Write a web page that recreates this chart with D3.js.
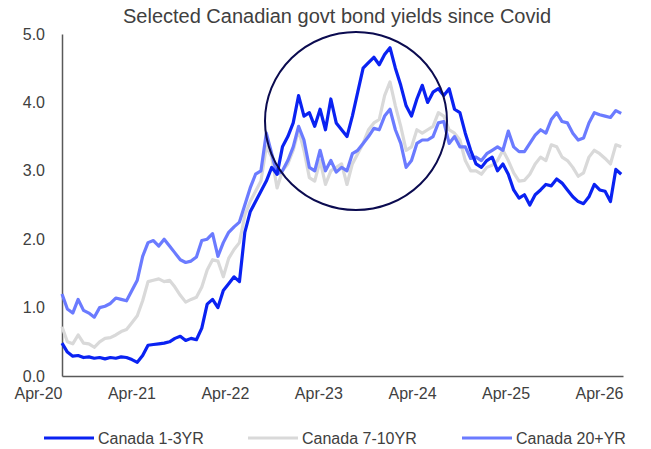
<!DOCTYPE html>
<html><head><meta charset="utf-8">
<script src="https://cdn.jsdelivr.net/npm/d3@7/dist/d3.min.js"></script>
<style>body{margin:0;background:#fff;}svg{display:block;font-family:"Liberation Sans",Arial,sans-serif;}</style>
</head><body>
<script>
const title = "Selected Canadian govt bond yields since Covid";
const seriesNames = ["Canada 1-3YR", "Canada 7-10YR", "Canada 20+YR"];
const seriesColors = ["#0A22F2", "#D9D9D9", "#6B7BFF"];
const yTicks = [0, 1, 2, 3, 4, 5];
const xTickLabels = ["Apr-20","Apr-21","Apr-22","Apr-23","Apr-24","Apr-25","Apr-26"];
const startDate = "2020-04-01";
const stepDays = 21;
const canada13 = [0.48,0.35,0.29,0.3,0.27,0.28,0.26,0.27,0.25,0.27,0.26,0.28,0.27,0.24,0.2,0.3,0.45,0.46,0.47,0.48,
0.5,0.55,0.58,0.52,0.55,0.53,0.7,1.05,1.12,1.0,1.25,1.35,1.45,1.38,2.1,2.4,2.55,2.7,2.85,3.05,
2.95,3.35,3.5,3.7,4.1,3.8,3.85,3.65,3.9,3.6,4.05,3.7,3.6,3.5,3.8,4.15,4.5,4.58,4.66,4.55,
4.7,4.8,4.5,4.25,3.95,3.8,4.05,4.25,4.0,4.15,4.2,4.1,4.2,3.9,3.85,3.55,3.3,3.1,3.05,3.15,
3.2,3.0,3.1,2.95,2.72,2.6,2.65,2.5,2.65,2.72,2.8,2.78,2.88,2.82,2.72,2.62,2.55,2.52,2.62,2.8,
2.72,2.7,2.55,3.02,2.95];
const canada710 = [0.72,0.5,0.47,0.6,0.48,0.47,0.42,0.5,0.55,0.56,0.6,0.65,0.68,0.78,0.88,1.1,1.38,1.4,1.42,1.38,
1.4,1.3,1.18,1.08,1.12,1.15,1.3,1.55,1.7,1.68,1.45,1.72,1.85,1.95,2.35,2.55,2.7,2.85,3.35,3.2,
2.75,3.0,3.1,3.3,3.6,3.3,2.9,2.85,3.15,2.8,3.0,3.05,3.1,2.8,3.1,3.25,3.4,3.6,3.7,3.75,
4.1,4.3,3.95,3.65,3.3,3.35,3.6,3.55,3.6,3.65,3.85,3.8,3.6,3.55,3.45,3.15,3.0,3.0,2.95,3.05,
3.08,3.15,3.3,3.15,2.97,2.85,2.86,2.95,3.1,3.2,3.15,3.38,3.35,3.2,3.15,3.05,2.92,2.97,3.2,3.3,
3.25,3.18,3.1,3.38,3.35];
const canada20 = [1.2,0.98,0.92,1.12,0.96,0.92,0.86,1.0,1.02,1.06,1.14,1.12,1.1,1.25,1.4,1.75,1.95,1.98,1.9,2.0,
1.9,1.8,1.7,1.66,1.68,1.74,1.98,2.0,2.08,1.75,1.95,2.1,2.18,2.25,2.5,2.75,2.95,3.0,3.55,3.25,
2.95,3.0,3.15,3.35,3.65,3.45,3.05,3.0,3.3,3.0,3.15,2.98,3.05,3.0,3.25,3.3,3.4,3.5,3.62,3.6,
3.8,3.9,3.6,3.4,3.05,3.15,3.4,3.45,3.45,3.5,3.7,3.72,3.4,3.5,3.35,3.35,3.18,3.2,3.15,3.25,
3.3,3.35,3.3,3.58,3.35,3.28,3.28,3.4,3.52,3.6,3.55,3.75,3.85,3.72,3.7,3.55,3.45,3.48,3.7,3.85,
3.82,3.8,3.78,3.88,3.84];

const W = 651, H = 449;
const svg = d3.select("body").append("svg").attr("width", W).attr("height", H);
const parse = d3.utcParse("%Y-%m-%d");
const t0 = parse(startDate);
const dates = canada13.map((_, i) => d3.utcDay.offset(t0, i * stepDays));
const x = d3.scaleUtc().domain([parse("2020-04-01"), parse("2026-04-01")]).range([62, 623]);
const y = d3.scaleLinear().domain([0, 5]).range([376, 34]);
const textColor = "#404040";

svg.append("text").attr("x", 337).attr("y", 23).attr("text-anchor", "middle")
  .attr("font-size", 20).attr("fill", textColor).text(title);

// y axis
const yAxis = d3.axisLeft(y).tickValues(yTicks).tickFormat(d3.format(".1f")).tickSize(0).tickPadding(17);
const gy = svg.append("g").attr("transform", "translate(62,0)").call(yAxis);
gy.select(".domain").attr("stroke", "#595959").attr("stroke-width", 1.5);
gy.selectAll("text").attr("font-size", 16).attr("fill", textColor).attr("font-family", "Liberation Sans, Arial, sans-serif");

// x axis
const tickDates = xTickLabels.map((_, i) => d3.utcYear.offset(parse("2020-04-01"), i));
const xAxis = d3.axisBottom(x).tickValues(tickDates).tickFormat((d, i) => xTickLabels[i]).tickSize(0).tickPadding(12);
const gx = svg.append("g").attr("transform", "translate(0,376)").call(xAxis);
gx.select(".domain").attr("stroke", "#595959").attr("stroke-width", 1.5);
gx.selectAll("text").attr("font-size", 16).attr("fill", textColor).attr("text-anchor", "end")
  .attr("font-family", "Liberation Sans, Arial, sans-serif");

const line = d3.line().x((d, i) => x(dates[i])).y(d => y(d)).curve(d3.curveLinear);
const data = [canada13, canada710, canada20];
const drawOrder = [1, 2, 0];
drawOrder.forEach(k => {
  svg.append("path").datum(data[k]).attr("d", line).attr("fill", "none")
    .attr("stroke", seriesColors[k]).attr("stroke-width", 3.2).attr("stroke-linejoin", "round");
});

// highlight circle
svg.append("ellipse").attr("cx", 356).attr("cy", 121).attr("rx", 91).attr("ry", 89)
  .attr("fill", "none").attr("stroke", "#0B0B50").attr("stroke-width", 2);

// legend
const legendX = [44, 248, 462];
seriesNames.forEach((n, k) => {
  const g = svg.append("g").attr("transform", `translate(${legendX[k]},438)`);
  g.append("line").attr("x1", 0).attr("x2", 50).attr("y1", 0).attr("y2", 0)
    .attr("stroke", seriesColors[k]).attr("stroke-width", 3);
  g.append("text").attr("x", 54).attr("y", 6).attr("font-size", 16).attr("fill", textColor).text(n);
});
</script>
</body></html>
